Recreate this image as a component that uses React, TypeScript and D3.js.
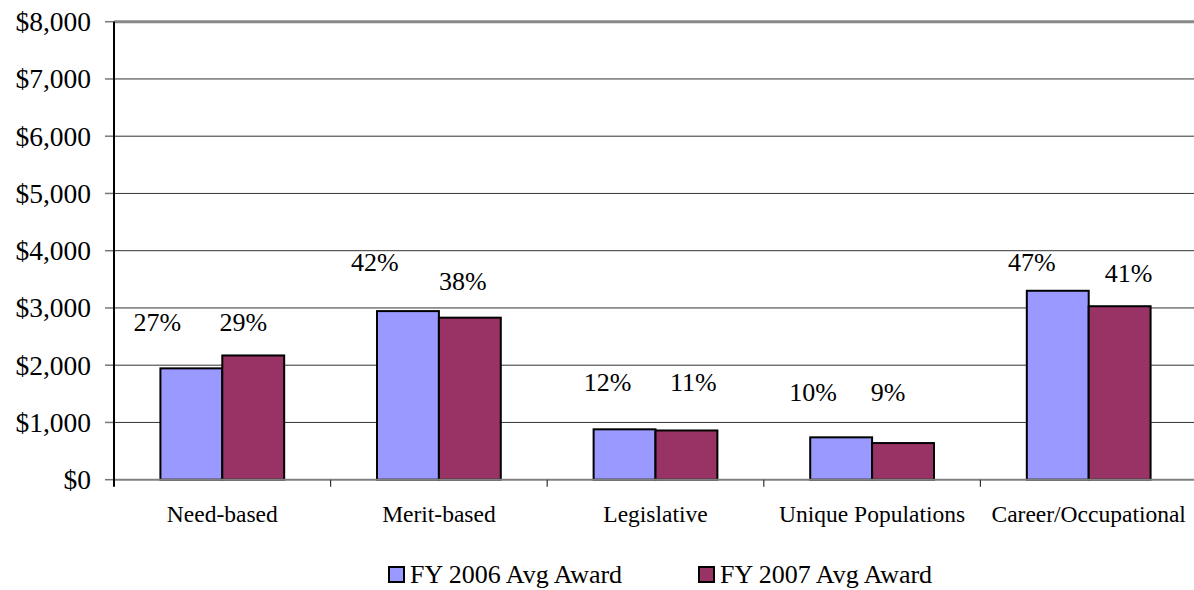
import React, { useRef, useEffect } from 'react';
import * as d3 from 'd3';

const categories = ['Need-based', 'Merit-based', 'Legislative', 'Unique Populations', 'Career/Occupational'];
const seriesNames = ['FY 2006 Avg Award', 'FY 2007 Avg Award'];
const fy2006 = [1945, 2945, 880, 740, 3300];
const fy2007 = [2170, 2830, 860, 640, 3030];
const pct2006 = ['27%', '42%', '12%', '10%', '47%'];
const pct2007 = ['29%', '38%', '11%', '9%', '41%'];
const yTicks = [0, 1000, 2000, 3000, 4000, 5000, 6000, 7000, 8000];

// where the hand-placed percent boxes sit: baseline in dollars, shift from bar centre in px
const labelLevel2006 = [2600, 3650, 1550, 1380, 3650];
const labelLevel2007 = [2600, 3310, 1550, 1380, 3460];
const labelShift2006 = [-34, -33, -17, -28, -26];
const labelShift2007 = [-10, -7, 7, -15, 9];

const colors = ['#9999ff', '#993366'];
const W = 1194, H = 590;
const FONT = '"Liberation Serif", "Times New Roman", serif';

const App = () => {
  const ref = useRef<SVGSVGElement>(null);

  useEffect(() => {
    const svg = d3.select(ref.current);
    svg.selectAll('*').remove();

    const margin = { top: 21.7, right: -3, bottom: 110.3, left: 114 };
    const x = d3.scaleBand().domain(categories).range([margin.left, W - margin.right]).padding(0);
    const x1 = d3.scaleBand().domain(seriesNames).range([0, x.bandwidth()]).paddingInner(0).paddingOuter(0.75);
    const y = d3.scaleLinear().domain([0, 8000]).range([H - margin.bottom, margin.top]);
    const fmt = d3.format('$,');

    svg.append('rect').attr('width', W).attr('height', H).attr('fill', 'white');

    // gridlines
    svg.append('g')
      .selectAll('line')
      .data(yTicks.filter(d => d > 0 && d < 8000))
      .join('line')
      .attr('x1', margin.left).attr('x2', W)
      .attr('y1', d => y(d)).attr('y2', d => y(d))
      .attr('stroke', '#333').attr('stroke-width', 1);

    // plot area top border
    svg.append('line')
      .attr('x1', margin.left).attr('x2', W)
      .attr('y1', y(8000)).attr('y2', y(8000))
      .attr('stroke', '#888').attr('stroke-width', 3);

    // y tick marks and labels
    const yg = svg.append('g');
    yg.selectAll('line')
      .data(yTicks)
      .join('line')
      .attr('x1', margin.left - 9).attr('x2', margin.left)
      .attr('y1', d => y(d)).attr('y2', d => y(d))
      .attr('stroke', '#777').attr('stroke-width', 1.5);
    yg.selectAll('text')
      .data(yTicks)
      .join('text')
      .attr('x', 91)
      .attr('y', d => y(d) + 9.3)
      .attr('text-anchor', 'end')
      .style('font-family', FONT)
      .style('font-size', '27.5px')
      .text(d => fmt(d));

    // bars
    const series = [fy2006, fy2007];
    const bars = svg.append('g');
    series.forEach((vals, si) => {
      bars.append('g')
        .selectAll('rect')
        .data(vals)
        .join('rect')
        .attr('x', (d, i) => x(categories[i])! + x1(seriesNames[si])!)
        .attr('y', d => y(d))
        .attr('width', x1.bandwidth())
        .attr('height', d => y(0) - y(d))
        .attr('fill', colors[si])
        .attr('stroke', 'black')
        .attr('stroke-width', 2);
    });

    // percent labels
    const pcts = [pct2006, pct2007];
    const levels = [labelLevel2006, labelLevel2007];
    const shifts = [labelShift2006, labelShift2007];
    pcts.forEach((labs, si) => {
      svg.append('g')
        .selectAll('text')
        .data(labs)
        .join('text')
        .attr('x', (d, i) => x(categories[i])! + x1(seriesNames[si])! + x1.bandwidth() / 2 + shifts[si][i])
        .attr('y', (d, i) => y(levels[si][i]))
        .attr('text-anchor', 'middle')
        .style('font-family', FONT)
        .style('font-size', '26px')
        .text(d => d);
    });

    // axes lines
    svg.append('line')
      .attr('x1', margin.left).attr('x2', W)
      .attr('y1', y(0)).attr('y2', y(0))
      .attr('stroke', '#808080').attr('stroke-width', 2);
    svg.append('line')
      .attr('x1', margin.left).attr('x2', margin.left)
      .attr('y1', y(8000)).attr('y2', y(0) + 7)
      .attr('stroke', 'black').attr('stroke-width', 2);

    // category ticks and labels
    const xg = svg.append('g');
    xg.selectAll('line')
      .data(categories.slice(1))
      .join('line')
      .attr('x1', d => x(d)!).attr('x2', d => x(d)!)
      .attr('y1', y(0)).attr('y2', y(0) + 7)
      .attr('stroke', '#333').attr('stroke-width', 1.2);
    xg.selectAll('text')
      .data(categories)
      .join('text')
      .attr('x', d => x(d)! + x.bandwidth() / 2)
      .attr('y', 522)
      .attr('text-anchor', 'middle')
      .style('font-family', FONT)
      .style('font-size', '23.5px')
      .text(d => d);

    // legend
    const legend = svg.append('g');
    const legendX = [389, 699];
    seriesNames.forEach((name, i) => {
      legend.append('rect')
        .attr('x', legendX[i]).attr('y', 567)
        .attr('width', 15).attr('height', 15)
        .attr('fill', colors[i])
        .attr('stroke', 'black').attr('stroke-width', 2);
      legend.append('text')
        .attr('x', legendX[i] + 21).attr('y', 583)
        .style('font-family', FONT)
        .style('font-size', '26px')
        .text(name);
    });
  }, []);

  return (
    <svg ref={ref} width={W} height={H} style={{ position: 'absolute', left: 0, top: 0 }} />
  );
};

export default App;
